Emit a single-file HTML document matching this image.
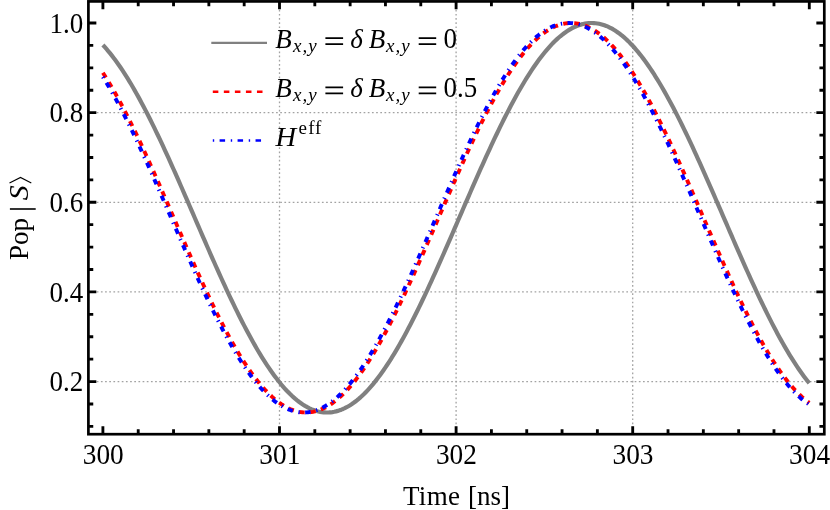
<!DOCTYPE html>
<html><head><meta charset="utf-8"><title>plot</title>
<style>html,body{margin:0;padding:0;background:#fff;overflow:hidden;}svg{display:block;will-change:transform;}text{font-family:"Liberation Serif",serif;fill:#000;}</style>
</head><body>
<svg width="830" height="510" viewBox="0 0 830 510">
<rect width="830" height="510" fill="#fff"/>
<g stroke="#a2a2a2" stroke-width="1.3" stroke-dasharray="1.7 2.47" fill="none">
<path d="M279.50 1.40 V434.20"/>
<path d="M456.10 1.40 V434.20"/>
<path d="M632.70 1.40 V434.20"/>
<path d="M88.40 381.56 H824.30"/>
<path d="M88.40 291.92 H824.30"/>
<path d="M88.40 202.28 H824.30"/>
<path d="M88.40 112.64 H824.30"/>
</g>
<g fill="none" stroke-linejoin="round">
<path d="M102.90 45.03 L104.67 46.95 L106.43 48.95 L108.20 51.03 L109.96 53.18 L111.73 55.40 L113.50 57.69 L115.26 60.05 L117.03 62.48 L118.79 64.98 L120.56 67.55 L122.33 70.18 L124.09 72.88 L125.86 75.64 L127.62 78.46 L129.39 81.34 L131.16 84.29 L132.92 87.29 L134.69 90.35 L136.45 93.47 L138.22 96.64 L139.99 99.87 L141.75 103.14 L143.52 106.47 L145.28 109.85 L147.05 113.27 L148.82 116.74 L150.58 120.25 L152.35 123.81 L154.11 127.41 L155.88 131.05 L157.65 134.72 L159.41 138.43 L161.18 142.18 L162.94 145.96 L164.71 149.77 L166.48 153.62 L168.24 157.49 L170.01 161.38 L171.77 165.30 L173.54 169.25 L175.31 173.21 L177.07 177.20 L178.84 181.20 L180.60 185.22 L182.37 189.26 L184.14 193.30 L185.90 197.36 L187.67 201.43 L189.43 205.50 L191.20 209.58 L192.97 213.66 L194.73 217.74 L196.50 221.83 L198.26 225.91 L200.03 229.99 L201.80 234.06 L203.56 238.13 L205.33 242.18 L207.09 246.23 L208.86 250.26 L210.63 254.28 L212.39 258.29 L214.16 262.27 L215.92 266.24 L217.69 270.18 L219.46 274.10 L221.22 278.00 L222.99 281.87 L224.75 285.71 L226.52 289.52 L228.29 293.30 L230.05 297.05 L231.82 300.76 L233.58 304.44 L235.35 308.08 L237.12 311.68 L238.88 315.23 L240.65 318.75 L242.41 322.22 L244.18 325.64 L245.95 329.01 L247.71 332.34 L249.48 335.62 L251.24 338.84 L253.01 342.02 L254.78 345.13 L256.54 348.19 L258.31 351.20 L260.07 354.14 L261.84 357.03 L263.61 359.85 L265.37 362.61 L267.14 365.31 L268.90 367.94 L270.67 370.51 L272.44 373.01 L274.20 375.44 L275.97 377.80 L277.73 380.09 L279.50 382.31 L281.27 384.46 L283.03 386.53 L284.80 388.53 L286.56 390.46 L288.33 392.30 L290.10 394.08 L291.86 395.77 L293.63 397.39 L295.39 398.92 L297.16 400.38 L298.93 401.76 L300.69 403.06 L302.46 404.27 L304.22 405.40 L305.99 406.45 L307.76 407.42 L309.52 408.30 L311.29 409.10 L313.05 409.82 L314.82 410.45 L316.59 411.00 L318.35 411.46 L320.12 411.83 L321.88 412.13 L323.65 412.33 L325.42 412.45 L327.18 412.49 L328.95 412.43 L330.71 412.30 L332.48 412.07 L334.25 411.77 L336.01 411.37 L337.78 410.89 L339.54 410.33 L341.31 409.68 L343.08 408.95 L344.84 408.13 L346.61 407.23 L348.37 406.25 L350.14 405.18 L351.91 404.03 L353.67 402.80 L355.44 401.49 L357.20 400.10 L358.97 398.62 L360.74 397.07 L362.50 395.44 L364.27 393.73 L366.03 391.94 L367.80 390.08 L369.57 388.14 L371.33 386.12 L373.10 384.03 L374.86 381.87 L376.63 379.64 L378.40 377.33 L380.16 374.96 L381.93 372.51 L383.69 370.00 L385.46 367.42 L387.23 364.77 L388.99 362.06 L390.76 359.29 L392.52 356.45 L394.29 353.56 L396.06 350.60 L397.82 347.59 L399.59 344.51 L401.35 341.39 L403.12 338.20 L404.89 334.97 L406.65 331.68 L408.42 328.34 L410.18 324.96 L411.95 321.53 L413.72 318.05 L415.48 314.52 L417.25 310.96 L419.01 307.35 L420.78 303.71 L422.55 300.02 L424.31 296.30 L426.08 292.55 L427.84 288.76 L429.61 284.95 L431.38 281.10 L433.14 277.22 L434.91 273.32 L436.67 269.39 L438.44 265.45 L440.21 261.48 L441.97 257.49 L443.74 253.48 L445.50 249.46 L447.27 245.42 L449.04 241.37 L450.80 237.31 L452.57 233.25 L454.33 229.17 L456.10 225.09 L457.87 221.01 L459.63 216.93 L461.40 212.84 L463.16 208.76 L464.93 204.68 L466.70 200.61 L468.46 196.55 L470.23 192.49 L471.99 188.45 L473.76 184.42 L475.53 180.40 L477.29 176.40 L479.06 172.42 L480.82 168.46 L482.59 164.52 L484.36 160.60 L486.12 156.71 L487.89 152.85 L489.65 149.01 L491.42 145.20 L493.19 141.43 L494.95 137.69 L496.72 133.98 L498.48 130.32 L500.25 126.69 L502.02 123.10 L503.78 119.55 L505.55 116.04 L507.31 112.58 L509.08 109.17 L510.85 105.80 L512.61 102.48 L514.38 99.22 L516.14 96.00 L517.91 92.84 L519.68 89.74 L521.44 86.69 L523.21 83.70 L524.97 80.76 L526.74 77.89 L528.51 75.08 L530.27 72.33 L532.04 69.65 L533.80 67.03 L535.57 64.47 L537.34 61.99 L539.10 59.57 L540.87 57.22 L542.63 54.95 L544.40 52.74 L546.17 50.61 L547.93 48.55 L549.70 46.56 L551.46 44.65 L553.23 42.82 L555.00 41.06 L556.76 39.39 L558.53 37.78 L560.29 36.26 L562.06 34.82 L563.83 33.46 L565.59 32.18 L567.36 30.98 L569.12 29.87 L570.89 28.83 L572.66 27.88 L574.42 27.02 L576.19 26.23 L577.95 25.53 L579.72 24.92 L581.49 24.39 L583.25 23.95 L585.02 23.59 L586.78 23.31 L588.55 23.12 L590.32 23.02 L592.08 23.00 L593.85 23.07 L595.61 23.23 L597.38 23.47 L599.15 23.79 L600.91 24.20 L602.68 24.70 L604.44 25.28 L606.21 25.94 L607.98 26.69 L609.74 27.53 L611.51 28.44 L613.27 29.44 L615.04 30.53 L616.81 31.69 L618.57 32.94 L620.34 34.27 L622.10 35.68 L623.87 37.17 L625.64 38.74 L627.40 40.38 L629.17 42.11 L630.93 43.91 L632.70 45.79 L634.47 47.75 L636.23 49.78 L638.00 51.88 L639.76 54.06 L641.53 56.30 L643.30 58.62 L645.06 61.01 L646.83 63.47 L648.59 66.00 L650.36 68.59 L652.13 71.25 L653.89 73.97 L655.66 76.76 L657.42 79.61 L659.19 82.52 L660.96 85.48 L662.72 88.51 L664.49 91.59 L666.25 94.73 L668.02 97.93 L669.79 101.17 L671.55 104.47 L673.32 107.82 L675.08 111.21 L676.85 114.65 L678.62 118.14 L680.38 121.67 L682.15 125.24 L683.91 128.86 L685.68 132.51 L687.45 136.20 L689.21 139.93 L690.98 143.69 L692.74 147.48 L694.51 151.31 L696.28 155.16 L698.04 159.04 L699.81 162.95 L701.57 166.88 L703.34 170.83 L705.11 174.81 L706.87 178.80 L708.64 182.81 L710.40 186.83 L712.17 190.87 L713.94 194.92 L715.70 198.99 L717.47 203.05 L719.23 207.13 L721.00 211.21 L722.77 215.29 L724.53 219.38 L726.30 223.46 L728.06 227.54 L729.83 231.62 L731.60 235.69 L733.36 239.75 L735.13 243.80 L736.89 247.84 L738.66 251.87 L740.43 255.89 L742.19 259.88 L743.96 263.86 L745.72 267.82 L747.49 271.75 L749.26 275.66 L751.02 279.55 L752.79 283.41 L754.55 287.24 L756.32 291.04 L758.09 294.81 L759.85 298.54 L761.62 302.24 L763.38 305.90 L765.15 309.52 L766.92 313.10 L768.68 316.64 L770.45 320.14 L772.21 323.59 L773.98 327.00 L775.75 330.35 L777.51 333.66 L779.28 336.91 L781.04 340.12 L782.81 343.27 L784.58 346.36 L786.34 349.40 L788.11 352.38 L789.87 355.30 L791.64 358.16 L793.41 360.96 L795.17 363.70 L796.94 366.37 L798.70 368.98 L800.47 371.51 L802.24 373.99 L804.00 376.39 L805.77 378.72 L807.53 380.99 L809.30 383.18" stroke="#808080" stroke-width="4.2"/>
<path d="M102.90 72.75 L104.67 75.50 L106.43 78.32 L108.20 81.20 L109.96 84.14 L111.73 87.13 L113.50 90.19 L115.26 93.30 L117.03 96.46 L118.79 99.68 L120.56 102.95 L122.33 106.27 L124.09 109.63 L125.86 113.05 L127.62 116.51 L129.39 120.02 L131.16 123.57 L132.92 127.16 L134.69 130.79 L136.45 134.46 L138.22 138.16 L139.99 141.90 L141.75 145.67 L143.52 149.48 L145.28 153.31 L147.05 157.18 L148.82 161.07 L150.58 164.98 L152.35 168.92 L154.11 172.88 L155.88 176.85 L157.65 180.85 L159.41 184.86 L161.18 188.89 L162.94 192.93 L164.71 196.98 L166.48 201.04 L168.24 205.11 L170.01 209.18 L171.77 213.26 L173.54 217.34 L175.31 221.41 L177.07 225.49 L178.84 229.56 L180.60 233.63 L182.37 237.69 L184.14 241.75 L185.90 245.79 L187.67 249.82 L189.43 253.83 L191.20 257.83 L192.97 261.82 L194.73 265.78 L196.50 269.72 L198.26 273.64 L200.03 277.53 L201.80 281.40 L203.56 285.24 L205.33 289.05 L207.09 292.83 L208.86 296.58 L210.63 300.29 L212.39 303.97 L214.16 307.60 L215.92 311.20 L217.69 314.76 L219.46 318.28 L221.22 321.75 L222.99 325.17 L224.75 328.55 L226.52 331.88 L228.29 335.16 L230.05 338.39 L231.82 341.56 L233.58 344.68 L235.35 347.75 L237.12 350.76 L238.88 353.71 L240.65 356.60 L242.41 359.42 L244.18 362.19 L245.95 364.90 L247.71 367.53 L249.48 370.11 L251.24 372.61 L253.01 375.05 L254.78 377.42 L256.54 379.72 L258.31 381.95 L260.07 384.11 L261.84 386.19 L263.61 388.20 L265.37 390.14 L267.14 391.99 L268.90 393.78 L270.67 395.48 L272.44 397.11 L274.20 398.66 L275.97 400.13 L277.73 401.52 L279.50 402.83 L281.27 404.06 L283.03 405.20 L284.80 406.27 L286.56 407.25 L288.33 408.14 L290.10 408.96 L291.86 409.69 L293.63 410.34 L295.39 410.90 L297.16 411.38 L298.93 411.77 L300.69 412.08 L302.46 412.30 L304.22 412.43 L305.99 412.49 L307.76 412.45 L309.52 412.33 L311.29 412.13 L313.05 411.84 L314.82 411.46 L316.59 411.00 L318.35 410.46 L320.12 409.83 L321.88 409.11 L323.65 408.31 L325.42 407.43 L327.18 406.47 L328.95 405.42 L330.71 404.29 L332.48 403.08 L334.25 401.79 L336.01 400.41 L337.78 398.96 L339.54 397.43 L341.31 395.81 L343.08 394.12 L344.84 392.36 L346.61 390.51 L348.37 388.59 L350.14 386.60 L351.91 384.53 L353.67 382.39 L355.44 380.17 L357.20 377.89 L358.97 375.53 L360.74 373.11 L362.50 370.61 L364.27 368.05 L366.03 365.43 L367.80 362.74 L369.57 359.98 L371.33 357.17 L373.10 354.29 L374.86 351.35 L376.63 348.35 L378.40 345.30 L380.16 342.19 L381.93 339.03 L383.69 335.81 L385.46 332.54 L387.23 329.22 L388.99 325.85 L390.76 322.44 L392.52 318.97 L394.29 315.47 L396.06 311.92 L397.82 308.33 L399.59 304.70 L401.35 301.03 L403.12 297.32 L404.89 293.58 L406.65 289.81 L408.42 286.01 L410.18 282.17 L411.95 278.31 L413.72 274.42 L415.48 270.51 L417.25 266.57 L419.01 262.61 L420.78 258.63 L422.55 254.63 L424.31 250.62 L426.08 246.59 L427.84 242.56 L429.61 238.50 L431.38 234.44 L433.14 230.38 L434.91 226.31 L436.67 222.23 L438.44 218.15 L440.21 214.07 L441.97 210.00 L443.74 205.92 L445.50 201.85 L447.27 197.79 L449.04 193.74 L450.80 189.70 L452.57 185.67 L454.33 181.65 L456.10 177.65 L457.87 173.67 L459.63 169.71 L461.40 165.77 L463.16 161.85 L464.93 157.95 L466.70 154.08 L468.46 150.24 L470.23 146.43 L471.99 142.65 L473.76 138.91 L475.53 135.19 L477.29 131.52 L479.06 127.88 L480.82 124.28 L482.59 120.72 L484.36 117.21 L486.12 113.74 L487.89 110.31 L489.65 106.94 L491.42 103.61 L493.19 100.33 L494.95 97.10 L496.72 93.92 L498.48 90.80 L500.25 87.74 L502.02 84.73 L503.78 81.78 L505.55 78.89 L507.31 76.06 L509.08 73.29 L510.85 70.59 L512.61 67.95 L514.38 65.38 L516.14 62.87 L517.91 60.43 L519.68 58.06 L521.44 55.76 L523.21 53.53 L524.97 51.38 L526.74 49.29 L528.51 47.29 L530.27 45.35 L532.04 43.49 L533.80 41.71 L535.57 40.00 L537.34 38.38 L539.10 36.83 L540.87 35.36 L542.63 33.97 L544.40 32.66 L546.17 31.43 L547.93 30.28 L549.70 29.22 L551.46 28.24 L553.23 27.34 L555.00 26.53 L556.76 25.80 L558.53 25.15 L560.29 24.59 L562.06 24.11 L563.83 23.72 L565.59 23.41 L567.36 23.19 L569.12 23.05 L570.89 23.00 L572.66 23.03 L574.42 23.15 L576.19 23.36 L577.95 23.65 L579.72 24.02 L581.49 24.48 L583.25 25.03 L585.02 25.66 L586.78 26.37 L588.55 27.17 L590.32 28.05 L592.08 29.02 L593.85 30.06 L595.61 31.19 L597.38 32.41 L599.15 33.70 L600.91 35.07 L602.68 36.53 L604.44 38.06 L606.21 39.67 L607.98 41.36 L609.74 43.13 L611.51 44.97 L613.27 46.89 L615.04 48.89 L616.81 50.96 L618.57 53.10 L620.34 55.31 L622.10 57.60 L623.87 59.95 L625.64 62.38 L627.40 64.87 L629.17 67.43 L630.93 70.06 L632.70 72.75 L634.47 75.50 L636.23 78.32 L638.00 81.20 L639.76 84.14 L641.53 87.13 L643.30 90.19 L645.06 93.30 L646.83 96.46 L648.59 99.68 L650.36 102.95 L652.13 106.27 L653.89 109.63 L655.66 113.05 L657.42 116.51 L659.19 120.02 L660.96 123.57 L662.72 127.16 L664.49 130.79 L666.25 134.46 L668.02 138.16 L669.79 141.90 L671.55 145.67 L673.32 149.48 L675.08 153.31 L676.85 157.18 L678.62 161.07 L680.38 164.98 L682.15 168.92 L683.91 172.88 L685.68 176.85 L687.45 180.85 L689.21 184.86 L690.98 188.89 L692.74 192.93 L694.51 196.98 L696.28 201.04 L698.04 205.11 L699.81 209.18 L701.57 213.26 L703.34 217.34 L705.11 221.41 L706.87 225.49 L708.64 229.56 L710.40 233.63 L712.17 237.69 L713.94 241.75 L715.70 245.79 L717.47 249.82 L719.23 253.83 L721.00 257.83 L722.77 261.82 L724.53 265.78 L726.30 269.72 L728.06 273.64 L729.83 277.53 L731.60 281.40 L733.36 285.24 L735.13 289.05 L736.89 292.83 L738.66 296.58 L740.43 300.29 L742.19 303.97 L743.96 307.60 L745.72 311.20 L747.49 314.76 L749.26 318.28 L751.02 321.75 L752.79 325.17 L754.55 328.55 L756.32 331.88 L758.09 335.16 L759.85 338.39 L761.62 341.56 L763.38 344.68 L765.15 347.75 L766.92 350.76 L768.68 353.71 L770.45 356.60 L772.21 359.42 L773.98 362.19 L775.75 364.90 L777.51 367.53 L779.28 370.11 L781.04 372.61 L782.81 375.05 L784.58 377.42 L786.34 379.72 L788.11 381.95 L789.87 384.11 L791.64 386.19 L793.41 388.20 L795.17 390.14 L796.94 391.99 L798.70 393.78 L800.47 395.48 L802.24 397.11 L804.00 398.66 L805.77 400.13 L807.53 401.52 L809.30 402.83" stroke="#ff0000" stroke-width="3.9" stroke-dasharray="5.56 5.505"/>
<path d="M102.90 76.90 L104.67 79.75 L106.43 82.66 L108.20 85.63 L109.96 88.65 L111.73 91.73 L113.50 94.87 L115.26 98.06 L117.03 101.31 L118.79 104.60 L120.56 107.94 L122.33 111.34 L124.09 114.78 L125.86 118.26 L127.62 121.79 L129.39 125.36 L131.16 128.97 L132.92 132.62 L134.69 136.30 L136.45 140.03 L138.22 143.78 L139.99 147.57 L141.75 151.39 L143.52 155.24 L145.28 159.12 L147.05 163.02 L148.82 166.95 L150.58 170.89 L152.35 174.86 L154.11 178.85 L155.88 182.86 L157.65 186.88 L159.41 190.91 L161.18 194.95 L162.94 199.01 L164.71 203.07 L166.48 207.14 L168.24 211.22 L170.01 215.30 L171.77 219.37 L173.54 223.45 L175.31 227.53 L177.07 231.60 L178.84 235.66 L180.60 239.72 L182.37 243.77 L184.14 247.80 L185.90 251.83 L187.67 255.84 L189.43 259.83 L191.20 263.80 L192.97 267.75 L194.73 271.68 L196.50 275.59 L198.26 279.47 L200.03 283.33 L201.80 287.15 L203.56 290.95 L205.33 294.71 L207.09 298.44 L208.86 302.13 L210.63 305.79 L212.39 309.41 L214.16 312.99 L215.92 316.52 L217.69 320.02 L219.46 323.47 L221.22 326.87 L222.99 330.22 L224.75 333.53 L226.52 336.78 L228.29 339.98 L230.05 343.13 L231.82 346.22 L233.58 349.26 L235.35 352.24 L237.12 355.16 L238.88 358.02 L240.65 360.82 L242.41 363.55 L244.18 366.22 L245.95 368.83 L247.71 371.37 L249.48 373.84 L251.24 376.25 L253.01 378.58 L254.78 380.85 L256.54 383.04 L258.31 385.16 L260.07 387.21 L261.84 389.18 L263.61 391.07 L265.37 392.90 L267.14 394.64 L268.90 396.31 L270.67 397.90 L272.44 399.40 L274.20 400.83 L275.97 402.18 L277.73 403.45 L279.50 404.64 L281.27 405.74 L283.03 406.77 L284.80 407.71 L286.56 408.56 L288.33 409.34 L290.10 410.02 L291.86 410.63 L293.63 411.15 L295.39 411.58 L297.16 411.93 L298.93 412.20 L300.69 412.38 L302.46 412.47 L304.22 412.48 L305.99 412.40 L307.76 412.24 L309.52 411.99 L311.29 411.66 L313.05 411.24 L314.82 410.74 L316.59 410.15 L318.35 409.48 L320.12 408.72 L321.88 407.88 L323.65 406.96 L325.42 405.96 L327.18 404.87 L328.95 403.70 L330.71 402.44 L332.48 401.11 L334.25 399.70 L336.01 398.20 L337.78 396.63 L339.54 394.98 L341.31 393.25 L343.08 391.44 L344.84 389.56 L346.61 387.61 L348.37 385.57 L350.14 383.47 L351.91 381.29 L353.67 379.04 L355.44 376.72 L357.20 374.33 L358.97 371.87 L360.74 369.34 L362.50 366.75 L364.27 364.09 L366.03 361.37 L367.80 358.58 L369.57 355.74 L371.33 352.83 L373.10 349.86 L374.86 346.83 L376.63 343.75 L378.40 340.62 L380.16 337.42 L381.93 334.18 L383.69 330.89 L385.46 327.54 L387.23 324.15 L388.99 320.71 L390.76 317.23 L392.52 313.70 L394.29 310.13 L396.06 306.52 L397.82 302.87 L399.59 299.18 L401.35 295.46 L403.12 291.70 L404.89 287.91 L406.65 284.09 L408.42 280.24 L410.18 276.37 L411.95 272.47 L413.72 268.54 L415.48 264.59 L417.25 260.62 L419.01 256.64 L420.78 252.63 L422.55 248.61 L424.31 244.58 L426.08 240.53 L427.84 236.48 L429.61 232.41 L431.38 228.34 L433.14 224.27 L434.91 220.19 L436.67 216.11 L438.44 212.03 L440.21 207.96 L441.97 203.89 L443.74 199.82 L445.50 195.76 L447.27 191.72 L449.04 187.68 L450.80 183.66 L452.57 179.65 L454.33 175.66 L456.10 171.69 L457.87 167.73 L459.63 163.80 L461.40 159.90 L463.16 156.01 L464.93 152.16 L466.70 148.33 L468.46 144.54 L470.23 140.78 L471.99 137.05 L473.76 133.35 L475.53 129.70 L477.29 126.08 L479.06 122.50 L480.82 118.96 L482.59 115.47 L484.36 112.02 L486.12 108.62 L487.89 105.26 L489.65 101.96 L491.42 98.71 L493.19 95.50 L494.95 92.36 L496.72 89.26 L498.48 86.23 L500.25 83.25 L502.02 80.33 L503.78 77.47 L505.55 74.67 L507.31 71.93 L509.08 69.26 L510.85 66.66 L512.61 64.12 L514.38 61.64 L516.14 59.24 L517.91 56.90 L519.68 54.64 L521.44 52.45 L523.21 50.33 L524.97 48.28 L526.74 46.31 L528.51 44.41 L530.27 42.59 L532.04 40.85 L533.80 39.18 L535.57 37.59 L537.34 36.08 L539.10 34.65 L540.87 33.30 L542.63 32.03 L544.40 30.85 L546.17 29.74 L547.93 28.72 L549.70 27.78 L551.46 26.92 L553.23 26.15 L555.00 25.46 L556.76 24.86 L558.53 24.34 L560.29 23.90 L562.06 23.55 L563.83 23.29 L565.59 23.11 L567.36 23.02 L569.12 23.01 L570.89 23.08 L572.66 23.25 L574.42 23.49 L576.19 23.83 L577.95 24.24 L579.72 24.75 L581.49 25.33 L583.25 26.01 L585.02 26.76 L586.78 27.60 L588.55 28.52 L590.32 29.53 L592.08 30.62 L593.85 31.79 L595.61 33.04 L597.38 34.38 L599.15 35.79 L600.91 37.28 L602.68 38.86 L604.44 40.51 L606.21 42.24 L607.98 44.04 L609.74 45.92 L611.51 47.88 L613.27 49.91 L615.04 52.02 L616.81 54.20 L618.57 56.45 L620.34 58.77 L622.10 61.16 L623.87 63.62 L625.64 66.14 L627.40 68.74 L629.17 71.39 L630.93 74.12 L632.70 76.90 L634.47 79.75 L636.23 82.66 L638.00 85.63 L639.76 88.65 L641.53 91.73 L643.30 94.87 L645.06 98.06 L646.83 101.31 L648.59 104.60 L650.36 107.94 L652.13 111.34 L653.89 114.78 L655.66 118.26 L657.42 121.79 L659.19 125.36 L660.96 128.97 L662.72 132.62 L664.49 136.30 L666.25 140.03 L668.02 143.78 L669.79 147.57 L671.55 151.39 L673.32 155.24 L675.08 159.12 L676.85 163.02 L678.62 166.95 L680.38 170.89 L682.15 174.86 L683.91 178.85 L685.68 182.86 L687.45 186.88 L689.21 190.91 L690.98 194.95 L692.74 199.01 L694.51 203.07 L696.28 207.14 L698.04 211.22 L699.81 215.30 L701.57 219.37 L703.34 223.45 L705.11 227.53 L706.87 231.60 L708.64 235.66 L710.40 239.72 L712.17 243.77 L713.94 247.80 L715.70 251.83 L717.47 255.84 L719.23 259.83 L721.00 263.80 L722.77 267.75 L724.53 271.68 L726.30 275.59 L728.06 279.47 L729.83 283.33 L731.60 287.15 L733.36 290.95 L735.13 294.71 L736.89 298.44 L738.66 302.13 L740.43 305.79 L742.19 309.41 L743.96 312.99 L745.72 316.52 L747.49 320.02 L749.26 323.47 L751.02 326.87 L752.79 330.22 L754.55 333.53 L756.32 336.78 L758.09 339.98 L759.85 343.13 L761.62 346.22 L763.38 349.26 L765.15 352.24 L766.92 355.16 L768.68 358.02 L770.45 360.82 L772.21 363.55 L773.98 366.22 L775.75 368.83 L777.51 371.37 L779.28 373.84 L781.04 376.25 L782.81 378.58 L784.58 380.85 L786.34 383.04 L788.11 385.16 L789.87 387.21 L791.64 389.18 L793.41 391.07 L795.17 392.90 L796.94 394.64 L798.70 396.31 L800.47 397.90 L802.24 399.40 L804.00 400.83 L805.77 402.18 L807.53 403.45 L809.30 404.64" stroke="#0000ff" stroke-width="3.9" stroke-dasharray="1.3 5.45 5.5 5.72"/>
</g>
<g stroke="#000" stroke-width="2.85" fill="none">
<path d="M102.90 434.20 v-7.95 M102.90 1.40 v7.95"/>
<path d="M138.22 434.20 v-4.85 M138.22 1.40 v4.85"/>
<path d="M173.54 434.20 v-4.85 M173.54 1.40 v4.85"/>
<path d="M208.86 434.20 v-4.85 M208.86 1.40 v4.85"/>
<path d="M244.18 434.20 v-4.85 M244.18 1.40 v4.85"/>
<path d="M279.50 434.20 v-7.95 M279.50 1.40 v7.95"/>
<path d="M314.82 434.20 v-4.85 M314.82 1.40 v4.85"/>
<path d="M350.14 434.20 v-4.85 M350.14 1.40 v4.85"/>
<path d="M385.46 434.20 v-4.85 M385.46 1.40 v4.85"/>
<path d="M420.78 434.20 v-4.85 M420.78 1.40 v4.85"/>
<path d="M456.10 434.20 v-7.95 M456.10 1.40 v7.95"/>
<path d="M491.42 434.20 v-4.85 M491.42 1.40 v4.85"/>
<path d="M526.74 434.20 v-4.85 M526.74 1.40 v4.85"/>
<path d="M562.06 434.20 v-4.85 M562.06 1.40 v4.85"/>
<path d="M597.38 434.20 v-4.85 M597.38 1.40 v4.85"/>
<path d="M632.70 434.20 v-7.95 M632.70 1.40 v7.95"/>
<path d="M668.02 434.20 v-4.85 M668.02 1.40 v4.85"/>
<path d="M703.34 434.20 v-4.85 M703.34 1.40 v4.85"/>
<path d="M738.66 434.20 v-4.85 M738.66 1.40 v4.85"/>
<path d="M773.98 434.20 v-4.85 M773.98 1.40 v4.85"/>
<path d="M809.30 434.20 v-7.95 M809.30 1.40 v7.95"/>
<path d="M88.40 426.38 h4.85 M824.30 426.38 h-4.85"/>
<path d="M88.40 403.97 h4.85 M824.30 403.97 h-4.85"/>
<path d="M88.40 381.56 h7.95 M824.30 381.56 h-7.95"/>
<path d="M88.40 359.15 h4.85 M824.30 359.15 h-4.85"/>
<path d="M88.40 336.74 h4.85 M824.30 336.74 h-4.85"/>
<path d="M88.40 314.33 h4.85 M824.30 314.33 h-4.85"/>
<path d="M88.40 291.92 h7.95 M824.30 291.92 h-7.95"/>
<path d="M88.40 269.51 h4.85 M824.30 269.51 h-4.85"/>
<path d="M88.40 247.10 h4.85 M824.30 247.10 h-4.85"/>
<path d="M88.40 224.69 h4.85 M824.30 224.69 h-4.85"/>
<path d="M88.40 202.28 h7.95 M824.30 202.28 h-7.95"/>
<path d="M88.40 179.87 h4.85 M824.30 179.87 h-4.85"/>
<path d="M88.40 157.46 h4.85 M824.30 157.46 h-4.85"/>
<path d="M88.40 135.05 h4.85 M824.30 135.05 h-4.85"/>
<path d="M88.40 112.64 h7.95 M824.30 112.64 h-7.95"/>
<path d="M88.40 90.23 h4.85 M824.30 90.23 h-4.85"/>
<path d="M88.40 67.82 h4.85 M824.30 67.82 h-4.85"/>
<path d="M88.40 45.41 h4.85 M824.30 45.41 h-4.85"/>
<path d="M88.40 23.00 h7.95 M824.30 23.00 h-7.95"/>
</g>
<rect x="88.40" y="1.40" width="735.90" height="432.80" fill="none" stroke="#000" stroke-width="2.70"/>
<g font-size="27">
<text transform="translate(103.20,463.6) scale(1.012,1.055)" text-anchor="middle">300</text>
<text transform="translate(279.80,463.6) scale(1.012,1.055)" text-anchor="middle">301</text>
<text transform="translate(456.40,463.6) scale(1.012,1.055)" text-anchor="middle">302</text>
<text transform="translate(633.00,463.6) scale(1.012,1.055)" text-anchor="middle">303</text>
<text transform="translate(809.60,463.6) scale(1.012,1.055)" text-anchor="middle">304</text>
<text transform="translate(83.2,391.26) scale(1,1.058)" text-anchor="end">0.2</text>
<text transform="translate(83.2,301.62) scale(1,1.058)" text-anchor="end">0.4</text>
<text transform="translate(83.2,211.98) scale(1,1.058)" text-anchor="end">0.6</text>
<text transform="translate(83.2,122.34) scale(1,1.058)" text-anchor="end">0.8</text>
<text transform="translate(83.2,32.70) scale(1,1.058)" text-anchor="end">1.0</text>
<text x="402.9" y="504.7" letter-spacing="0.35">Time</text>
<text x="509.9" y="504.7" text-anchor="end">[ns]</text>
<g transform="translate(28.3,259.9) rotate(-90)">
<text x="0" y="0">Pop</text>
<path d="M50.9 -18.4 V7.4" stroke="#000" stroke-width="1.6" fill="none"/>
<text transform="translate(59.6,0) scale(1.1,1)" font-style="italic">S</text>
<path d="M76.8 -18.8 L82.5 -7.8 L76.8 3.0" stroke="#000" stroke-width="1.15" fill="none"/>
</g>
</g>
<g fill="none">
<path d="M211.3 42.9 H267.0" stroke="#808080" stroke-width="2.4"/>
<path d="M212.8 91.7 H263.2" stroke="#ff0000" stroke-width="2.5" stroke-dasharray="5.55 5.49"/>
<path d="M212.8 140.5 H262" stroke="#0000ff" stroke-width="2.5" stroke-dasharray="1.4 5.4 5.5 5.67"/>
</g>
<g font-size="27">
<text x="275.2" y="47.5" font-style="italic">B</text>
<g font-style="italic" font-size="19">
<text x="293.0" y="51.8">x</text>
<text x="302.4" y="51.8">,</text>
<text x="308.2" y="51.8">y</text>
</g>
<path d="M325.4 38.1 h17.7 M325.4 44.1 h17.7" stroke="#000" stroke-width="1.7"/>
<text x="350.3" y="47.5" font-style="italic">δ</text>
<text x="368.8" y="47.5" font-style="italic">B</text>
<g font-style="italic" font-size="19">
<text x="386.0" y="51.8">x</text>
<text x="395.4" y="51.8">,</text>
<text x="401.2" y="51.8">y</text>
</g>
<path d="M418.7 38.1 h17.5 M418.7 44.1 h17.5" stroke="#000" stroke-width="1.7"/>
<text transform="translate(443.6,47.5) scale(1,1.055)">0</text>
</g>
<g font-size="27">
<text x="275.2" y="96.7" font-style="italic">B</text>
<g font-style="italic" font-size="19">
<text x="293.0" y="101.0">x</text>
<text x="302.4" y="101.0">,</text>
<text x="308.2" y="101.0">y</text>
</g>
<path d="M325.4 87.3 h17.7 M325.4 93.3 h17.7" stroke="#000" stroke-width="1.7"/>
<text x="350.3" y="96.7" font-style="italic">δ</text>
<text x="368.8" y="96.7" font-style="italic">B</text>
<g font-style="italic" font-size="19">
<text x="386.0" y="101.0">x</text>
<text x="395.4" y="101.0">,</text>
<text x="401.2" y="101.0">y</text>
</g>
<path d="M418.7 87.3 h17.5 M418.7 93.3 h17.5" stroke="#000" stroke-width="1.7"/>
<text transform="translate(443.6,96.7) scale(1,1.055)">0.5</text>
</g>
<text transform="translate(275.5,145.5) scale(1.06,1.03)" font-size="27" font-style="italic">H</text>
<text x="298.6" y="133.8" font-size="19">e</text>
<text x="308.3" y="133.8" font-size="19" letter-spacing="0.6">ff</text>
</svg>
</body></html>
